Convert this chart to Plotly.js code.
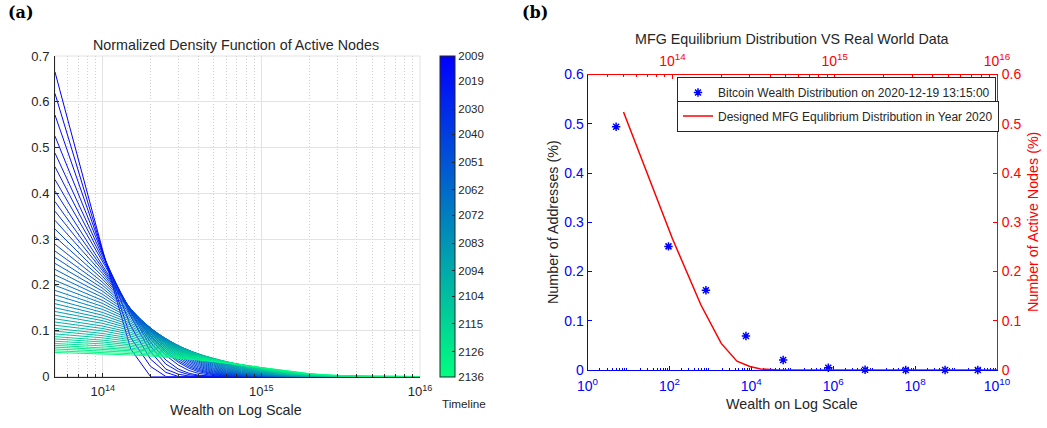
<!DOCTYPE html>
<html>
<head>
<meta charset="utf-8">
<script src="https://cdn.plot.ly/plotly-3.0.1.min.js"></script>
<style>
  html, body { margin: 0; padding: 0; background: #ffffff; }
  #chart { width: 1047px; height: 428px; }
</style>
</head>
<body>
<div id="chart"></div>
<script>
// ---------- (a) density of active nodes over wealth, one curve every three years ----------
const wealthGrid = [5e13, 1e14, 1.5e14, 2e14, 2.5e14, 3e14, 3.5e14, 4e14, 5e14, 6e14,
                    7.5e14, 1e15, 1.25e15, 1.5e15, 2e15, 2.5e15, 3e15, 4e15, 5e15, 1e16];

const years = [2009, 2012, 2015, 2018, 2021, 2024, 2027, 2030, 2033, 2036, 2039, 2042,
               2045, 2048, 2051, 2054, 2057, 2060, 2063, 2066, 2069, 2072, 2075, 2078,
               2081, 2084, 2087, 2090, 2093, 2096, 2099, 2102, 2105, 2108, 2111, 2114,
               2117, 2120, 2123, 2126, 2129, 2132, 2135];

const density = [
  [0.665, 0.275, 0.06, 0, 0, 0, 0, 0, 0, 0, 0, 0, 0, 0, 0, 0, 0, 0, 0, 0],
  [0.618, 0.272, 0.085, 0.022, 0, 0, 0, 0, 0, 0, 0, 0, 0, 0, 0, 0, 0, 0, 0, 0],
  [0.571, 0.27, 0.11, 0.038, 0.009, 0, 0, 0, 0, 0, 0, 0, 0, 0, 0, 0, 0, 0, 0, 0],
  [0.525, 0.267, 0.132, 0.054, 0.016, 0.005, 0.001, 0, 0, 0, 0, 0, 0, 0, 0, 0, 0, 0, 0, 0],
  [0.488, 0.262, 0.14, 0.066, 0.027, 0.011, 0.004, 0.0015, 0, 0, 0, 0, 0, 0, 0, 0, 0, 0, 0, 0],
  [0.458, 0.256, 0.142, 0.075, 0.036, 0.016, 0.007, 0.003, 0.0006, 0.0001, 0, 0, 0, 0, 0, 0, 0, 0, 0, 0],
  [0.43, 0.25, 0.145, 0.082, 0.046, 0.025, 0.013, 0.007, 0.002, 0.0005, 0.0001, 0, 0, 0, 0, 0, 0, 0, 0, 0],
  [0.405, 0.243, 0.146, 0.087, 0.052, 0.031, 0.018, 0.0105, 0.0036, 0.0012, 0.0002, 0, 0, 0, 0, 0, 0, 0, 0, 0],
  [0.382, 0.236, 0.146, 0.09, 0.0557, 0.0344, 0.0213, 0.0132, 0.005, 0.0019, 0.00045, 0.00004, 0, 0, 0, 0, 0, 0, 0, 0],
  [0.361, 0.2307, 0.1474, 0.0942, 0.0602, 0.0385, 0.0246, 0.0157, 0.0064, 0.0026, 0.0007, 0.0001, 0, 0, 0, 0, 0, 0, 0, 0],
  [0.341, 0.2247, 0.1481, 0.0976, 0.0643, 0.0424, 0.0279, 0.0184, 0.008, 0.0035, 0.001, 0.00013, 0, 0, 0, 0, 0, 0, 0, 0],
  [0.322, 0.2183, 0.148, 0.1004, 0.068, 0.0461, 0.0313, 0.0212, 0.0098, 0.0045, 0.0014, 0.0002, 0, 0, 0, 0, 0, 0, 0, 0],
  [0.305, 0.212, 0.1473, 0.1024, 0.0712, 0.0495, 0.0344, 0.0239, 0.0115, 0.0056, 0.0019, 0.0003, 0.00005, 0, 0, 0, 0, 0, 0, 0],
  [0.289, 0.2055, 0.1461, 0.1039, 0.0739, 0.0525, 0.0373, 0.0266, 0.0134, 0.0068, 0.0024, 0.0004, 0.0001, 0, 0, 0, 0, 0, 0, 0],
  [0.274, 0.1989, 0.1444, 0.1049, 0.0761, 0.0553, 0.0401, 0.0291, 0.0153, 0.0081, 0.0031, 0.0006, 0.0001, 0, 0, 0, 0, 0, 0, 0],
  [0.26, 0.1924, 0.1424, 0.1054, 0.078, 0.0577, 0.0427, 0.0316, 0.0173, 0.0095, 0.0038, 0.0009, 0.0002, 0, 0, 0, 0, 0, 0, 0],
  [0.247, 0.186, 0.14, 0.1054, 0.0794, 0.0598, 0.045, 0.0339, 0.0192, 0.0109, 0.0047, 0.0011, 0.0003, 0.0001, 0, 0, 0, 0, 0, 0],
  [0.234, 0.1792, 0.1373, 0.1052, 0.0806, 0.0617, 0.0473, 0.0362, 0.0213, 0.0125, 0.0056, 0.0015, 0.0004, 0.0001, 0, 0, 0, 0, 0, 0],
  [0.222, 0.1727, 0.1344, 0.1045, 0.0813, 0.0633, 0.0492, 0.0383, 0.0232, 0.014, 0.0066, 0.0019, 0.0005, 0.0002, 0, 0, 0, 0, 0, 0],
  [0.21, 0.1659, 0.1311, 0.1035, 0.0818, 0.0646, 0.051, 0.0403, 0.0252, 0.0157, 0.0078, 0.0024, 0.0007, 0.0002, 0, 0, 0, 0, 0, 0],
  [0.199, 0.1594, 0.1277, 0.1023, 0.0819, 0.0656, 0.0526, 0.0421, 0.027, 0.0173, 0.0089, 0.0029, 0.001, 0.0003, 0, 0, 0, 0, 0, 0],
  [0.188, 0.1527, 0.124, 0.1007, 0.0817, 0.0664, 0.0539, 0.0438, 0.0289, 0.019, 0.0102, 0.0036, 0.0013, 0.0004, 0.0001, 0, 0, 0, 0, 0],
  [0.178, 0.1463, 0.1203, 0.0989, 0.0813, 0.0668, 0.0549, 0.0452, 0.0305, 0.0206, 0.0114, 0.0043, 0.0016, 0.0006, 0.0001, 0, 0, 0, 0, 0],
  [0.168, 0.1398, 0.1163, 0.0968, 0.0805, 0.067, 0.0557, 0.0464, 0.0321, 0.0222, 0.0128, 0.0051, 0.002, 0.0008, 0.0001, 0, 0, 0, 0, 0],
  [0.159, 0.1337, 0.1125, 0.0946, 0.0795, 0.0669, 0.0563, 0.0473, 0.0335, 0.0237, 0.0141, 0.0059, 0.0025, 0.001, 0.0002, 0, 0, 0, 0, 0],
  [0.15, 0.1275, 0.1084, 0.0921, 0.0783, 0.0666, 0.0566, 0.0481, 0.0348, 0.0251, 0.0154, 0.0068, 0.003, 0.0014, 0.0003, 0.00005, 0, 0, 0, 0],
  [0.142, 0.1218, 0.1045, 0.0897, 0.0769, 0.066, 0.0566, 0.0486, 0.0358, 0.0263, 0.0166, 0.0077, 0.0036, 0.0017, 0.0004, 0.0001, 0, 0, 0, 0],
  [0.134, 0.116, 0.1005, 0.087, 0.0754, 0.0653, 0.0565, 0.0489, 0.0367, 0.0275, 0.0179, 0.0087, 0.0042, 0.0021, 0.0005, 0.0001, 0, 0, 0, 0],
  [0.126, 0.1101, 0.0963, 0.0841, 0.0735, 0.0643, 0.0562, 0.0491, 0.0375, 0.0286, 0.0191, 0.0098, 0.005, 0.0025, 0.0007, 0.0002, 0, 0, 0, 0],
  [0.119, 0.1048, 0.0924, 0.0814, 0.0717, 0.0632, 0.0556, 0.049, 0.038, 0.0295, 0.0202, 0.0107, 0.0057, 0.003, 0.0009, 0.0002, 0.0001, 0, 0, 0],
  [0.112, 0.0995, 0.0883, 0.0784, 0.0697, 0.0619, 0.0549, 0.0488, 0.0385, 0.0303, 0.0212, 0.0117, 0.0065, 0.0036, 0.0011, 0.0003, 0.0001, 0, 0, 0],
  [0.105, 0.094, 0.0841, 0.0753, 0.0674, 0.0603, 0.054, 0.0483, 0.0387, 0.031, 0.0222, 0.0128, 0.0073, 0.0042, 0.0014, 0.0005, 0.0002, 0, 0, 0],
  [0.099, 0.0892, 0.0804, 0.0724, 0.0653, 0.0588, 0.053, 0.0477, 0.0387, 0.0314, 0.023, 0.0137, 0.0081, 0.0048, 0.0017, 0.0006, 0.0002, 0, 0, 0],
  [0.093, 0.0844, 0.0765, 0.0694, 0.0629, 0.0571, 0.0518, 0.047, 0.0387, 0.0318, 0.0237, 0.0146, 0.0089, 0.0055, 0.0021, 0.0008, 0.0003, 0, 0, 0],
  [0.087, 0.0794, 0.0725, 0.0662, 0.0605, 0.0552, 0.0504, 0.046, 0.0384, 0.032, 0.0243, 0.0154, 0.0098, 0.0062, 0.0025, 0.001, 0.0004, 0.0001, 0, 0],
  [0.082, 0.0753, 0.0691, 0.0634, 0.0582, 0.0535, 0.0491, 0.0451, 0.038, 0.032, 0.0247, 0.0161, 0.0105, 0.0068, 0.0029, 0.0012, 0.0005, 0.0001, 0, 0],
  [0.077, 0.0711, 0.0656, 0.0605, 0.0559, 0.0516, 0.0476, 0.0439, 0.0374, 0.0319, 0.0251, 0.0168, 0.0113, 0.0076, 0.0034, 0.0015, 0.0007, 0.0001, 0, 0],
  [0.072, 0.0668, 0.062, 0.0576, 0.0534, 0.0496, 0.046, 0.0427, 0.0368, 0.0317, 0.0253, 0.0174, 0.012, 0.0083, 0.0039, 0.0019, 0.0009, 0.0002, 0, 0],
  [0.068, 0.0634, 0.0591, 0.0551, 0.0513, 0.0478, 0.0446, 0.0415, 0.0361, 0.0313, 0.0254, 0.0178, 0.0126, 0.0088, 0.0044, 0.0022, 0.0011, 0.0003, 0.0001, 0],
  [0.064, 0.0599, 0.0561, 0.0525, 0.0491, 0.046, 0.043, 0.0403, 0.0353, 0.0309, 0.0254, 0.0182, 0.0131, 0.0094, 0.0049, 0.0025, 0.0013, 0.0004, 0.0001, 0],
  [0.06, 0.0564, 0.053, 0.0498, 0.0468, 0.044, 0.0414, 0.0389, 0.0344, 0.0304, 0.0252, 0.0185, 0.0136, 0.01, 0.0054, 0.0029, 0.0016, 0.0005, 0.0001, 0],
  [0.056, 0.0529, 0.0499, 0.0471, 0.0445, 0.042, 0.0396, 0.0374, 0.0333, 0.0297, 0.025, 0.0188, 0.0141, 0.0105, 0.0059, 0.0033, 0.0019, 0.0006, 0.0002, 0],
  [0.0525, 0.0497, 0.0471, 0.0447, 0.0423, 0.0401, 0.038, 0.036, 0.0323, 0.029, 0.0247, 0.0188, 0.0144, 0.011, 0.0064, 0.0038, 0.0022, 0.00075, 0.0003, 0]
];

const timelineTicks = [2009, 2019, 2030, 2040, 2051, 2062, 2072, 2083, 2094, 2104, 2115, 2126, 2136];

// ---------- (b) observed address balances vs designed equilibrium ----------
const btcWealth = [5, 95, 780, 7400, 6e4, 7.6e5, 6e6, 5.9e7, 5.4e8, 3.4e9];
const btcShare  = [0.494, 0.251, 0.162, 0.069, 0.0203, 0.0047, 0.0005, 0.0001, 0, 0];

const mfgWealth = [5e13, 1e14, 1.5e14, 2e14, 2.5e14, 3e14, 3.5e14, 4e14, 4.5e14, 1e16];
const mfgShare  = [0.524, 0.267, 0.132, 0.054, 0.018, 0.007, 0.002, 0.0005, 0, 0];

// ---------- helpers ----------
const W = 1047, H = 428;
const px = v => v / W;          // horizontal pixel -> paper
const py = v => 1 - v / H;      // vertical pixel -> paper

const yearMin = 2009, yearMax = 2136;
// blue -> spring green ramp
function timelineColor(year) {
  const t = (year - yearMin) / (yearMax - yearMin);
  return `rgb(0,${Math.round(255 * t)},${Math.round(255 * (1 - 0.5 * t))})`;
}

function minorLogTicks(fromExp, toExp, lo, hi) {
  const out = [];
  for (let e = fromExp; e < toExp; e++) {
    for (let m = 2; m <= 9; m++) {
      const v = m * Math.pow(10, e);
      if (v >= lo && v <= hi) out.push(v);
    }
  }
  return out;
}

const DARK = '#262626';
const BLUE = '#0000ff';
const RED = '#ff0000';
const FONT = 'Liberation Sans, Arial, Helvetica, sans-serif';
const tickFont = (c, s) => ({ family: FONT, size: s, color: c });

// ---------- traces ----------
const traces = [];

years.forEach((yr, i) => {
  traces.push({
    type: 'scatter', mode: 'lines',
    x: wealthGrid, y: density[i],
    xaxis: 'x', yaxis: 'y',
    line: { color: timelineColor(yr), width: 1 },
    showlegend: false, hoverinfo: 'skip'
  });
});

// colour bar for the timeline (reversed so that 2009 sits at the top)
traces.push({
  type: 'scatter', mode: 'markers',
  x: [null], y: [null], xaxis: 'x', yaxis: 'y',
  showlegend: false, hoverinfo: 'skip',
  marker: {
    color: [-yearMax, -yearMin],
    cmin: -yearMax, cmax: -yearMin,
    colorscale: [[0, timelineColor(yearMax)], [1, timelineColor(yearMin)]],
    showscale: true,
    colorbar: {
      x: px(440), xanchor: 'left', xref: 'paper',
      y: py(56), yanchor: 'top', yref: 'paper',
      len: (376.5 - 56) / H, lenmode: 'fraction',
      thickness: 15, thicknessmode: 'pixels',
      xpad: 0, ypad: 0,
      outlinecolor: DARK, outlinewidth: 1,
      ticks: 'inside', ticklen: 3, tickcolor: DARK, tickwidth: 1,
      tickvals: timelineTicks.map(v => -v),
      ticktext: timelineTicks.map(String),
      tickfont: { family: FONT, size: 11.5, color: DARK }
    }
  }
});

traces.push({
  type: 'scatter', mode: 'markers',
  x: btcWealth, y: btcShare,
  xaxis: 'x2', yaxis: 'y2',
  name: 'Bitcoin Wealth Distribution on 2020-12-19 13:15:00',
  legend: 'legend',
  marker: { symbol: 'asterisk-open', size: 7, color: BLUE, line: { color: BLUE, width: 1.5 } },
  cliponaxis: false
});

traces.push({
  type: 'scatter', mode: 'lines',
  x: mfgWealth, y: mfgShare,
  xaxis: 'x3', yaxis: 'y3',
  name: 'Designed MFG Equlibrium Distribution in Year 2020',
  legend: 'legend2',
  line: { color: RED, width: 1.5 }
});

// ---------- layout ----------
const supTicks = exps => exps.map(e => '10<sup>' + e + '</sup>');

const layout = {
  width: W, height: H,
  margin: { l: 0, r: 0, t: 0, b: 0, pad: 0 },
  paper_bgcolor: '#ffffff', plot_bgcolor: '#ffffff',
  font: { family: FONT, color: DARK },

  xaxis: {
    type: 'log', range: [Math.log10(5e13), 16],
    domain: [px(55), px(420)], anchor: 'y',
    tickvals: [1e14, 1e15, 1e16], ticktext: supTicks([14, 15, 16]),
    ticks: 'inside', ticklen: 4, tickcolor: DARK, tickwidth: 1,
    tickfont: tickFont(DARK, 13), ticklabelstandoff: 3,
    showline: true, linecolor: DARK, linewidth: 1,
    showgrid: true, gridcolor: '#e3e3e3', gridwidth: 1,
    zeroline: false,
    minor: {
      tickmode: 'array', tickvals: minorLogTicks(13, 16, 5e13, 1e16),
      ticks: 'inside', ticklen: 2.5, tickcolor: DARK, tickwidth: 1,
      showgrid: true, gridcolor: '#cfcfcf', gridwidth: 1, griddash: '1px,2px'
    }
  },
  yaxis: {
    range: [0, 0.7], dtick: 0.1,
    domain: [py(376.5), py(56)], anchor: 'x',
    ticks: 'inside', ticklen: 4, tickcolor: DARK, tickwidth: 1,
    tickfont: tickFont(DARK, 13), ticklabelstandoff: 2,
    showline: true, linecolor: DARK, linewidth: 1,
    showgrid: true, gridcolor: '#e3e3e3', gridwidth: 1,
    zeroline: false
  },

  xaxis2: {
    type: 'log', range: [0, 10],
    domain: [px(587.5), px(997)], anchor: 'y2',
    tickvals: [1, 1e2, 1e4, 1e6, 1e8, 1e10], ticktext: supTicks([0, 2, 4, 6, 8, 10]),
    ticks: 'inside', ticklen: 4, tickcolor: BLUE, tickwidth: 1,
    tickfont: tickFont(BLUE, 14), ticklabelstandoff: 3,
    showline: true, linecolor: BLUE, linewidth: 1,
    showgrid: false, zeroline: false, layer: 'below traces',
    minor: {
      tickmode: 'array', tickvals: minorLogTicks(0, 10, 1, 1e10),
      ticks: 'inside', ticklen: 2.5, tickcolor: BLUE, tickwidth: 1, showgrid: false
    }
  },
  yaxis2: {
    range: [0, 0.6], dtick: 0.1,
    domain: [py(370), py(74.5)], anchor: 'x2',
    ticks: 'inside', ticklen: 4, tickcolor: BLUE, tickwidth: 1,
    tickfont: tickFont(BLUE, 14), ticklabelstandoff: 0,
    showline: true, linecolor: BLUE, linewidth: 1,
    showgrid: false, zeroline: false, layer: 'below traces'
  },
  xaxis3: {
    type: 'log', range: [Math.log10(3e13), 16],
    overlaying: 'x2', side: 'top', anchor: 'y3',
    tickvals: [1e14, 1e15, 1e16], ticktext: supTicks([14, 15, 16]),
    ticks: 'inside', ticklen: 4, tickcolor: RED, tickwidth: 1,
    tickfont: tickFont(RED, 14), ticklabelstandoff: 2,
    showline: true, linecolor: RED, linewidth: 1,
    showgrid: false, zeroline: false,
    minor: {
      tickmode: 'array', tickvals: minorLogTicks(13, 16, 3e13, 1e16),
      ticks: 'inside', ticklen: 2.5, tickcolor: RED, tickwidth: 1, showgrid: false
    }
  },
  yaxis3: {
    range: [0, 0.6], dtick: 0.1,
    overlaying: 'y2', side: 'right', anchor: 'x3',
    ticks: 'inside', ticklen: 4, tickcolor: RED, tickwidth: 1,
    tickfont: tickFont(RED, 14), ticklabelstandoff: 1,
    showline: true, linecolor: RED, linewidth: 1,
    showgrid: false, zeroline: false
  },

  legend: {
    x: px(677), xanchor: 'left', y: py(77), yanchor: 'top',
    bgcolor: '#ffffff', bordercolor: DARK, borderwidth: 1,
    font: { family: FONT, size: 12, color: DARK },
    itemwidth: 30, tracegroupgap: 0
  },
  legend2: {
    x: px(677), xanchor: 'left', y: py(100.5), yanchor: 'top',
    bgcolor: '#ffffff', bordercolor: DARK, borderwidth: 1,
    font: { family: FONT, size: 12, color: DARK },
    itemwidth: 30, tracegroupgap: 0
  },

  // light frame closing the top and right sides of panel (a)
  shapes: [
    { type: 'rect', xref: 'x domain', yref: 'y domain', x0: 0, x1: 1, y0: 0, y1: 1,
      line: { color: '#e3e3e3', width: 1 }, fillcolor: 'rgba(0,0,0,0)', layer: 'below' }
  ],

  annotations: [
    { text: '<b>(a)</b>', x: px(6), y: py(12), xanchor: 'left', yanchor: 'middle',
      xref: 'paper', yref: 'paper', showarrow: false,
      font: { family: 'DejaVu Serif, serif', size: 16, color: '#000000' } },
    { text: '<b>(b)</b>', x: px(520), y: py(12), xanchor: 'left', yanchor: 'middle',
      xref: 'paper', yref: 'paper', showarrow: false,
      font: { family: 'DejaVu Serif, serif', size: 16, color: '#000000' } },
    { text: 'Normalized Density Function of Active Nodes', x: px(236), y: py(45),
      xanchor: 'center', yanchor: 'middle', xref: 'paper', yref: 'paper', showarrow: false,
      font: { family: FONT, size: 14.3, color: DARK } },
    { text: 'MFG Equilibrium Distribution VS Real World Data', x: px(792), y: py(39),
      xanchor: 'center', yanchor: 'middle', xref: 'paper', yref: 'paper', showarrow: false,
      font: { family: FONT, size: 14.3, color: DARK } },
    { text: 'Wealth on Log Scale', x: px(236), y: py(410), xanchor: 'center', yanchor: 'middle',
      xref: 'paper', yref: 'paper', showarrow: false, font: { family: FONT, size: 14.3, color: DARK } },
    { text: 'Wealth on Log Scale', x: px(792), y: py(404), xanchor: 'center', yanchor: 'middle',
      xref: 'paper', yref: 'paper', showarrow: false, font: { family: FONT, size: 14.3, color: DARK } },
    { text: 'Number of Addresses (%)', x: px(553), y: py(222), textangle: -90,
      xanchor: 'center', yanchor: 'middle', xref: 'paper', yref: 'paper', showarrow: false,
      font: { family: FONT, size: 14.3, color: DARK } },
    { text: 'Number of Active Nodes (%)', x: px(1033), y: py(222), textangle: -90,
      xanchor: 'center', yanchor: 'middle', xref: 'paper', yref: 'paper', showarrow: false,
      font: { family: FONT, size: 14.3, color: RED } },
    { text: 'Timeline', x: px(440), y: py(403), xanchor: 'left', yanchor: 'middle',
      xref: 'paper', yref: 'paper', showarrow: false, font: { family: FONT, size: 11.7, color: DARK } }
  ]
};

Plotly.newPlot('chart', traces, layout, { displayModeBar: false, staticPlot: true });
</script>
</body>
</html>
